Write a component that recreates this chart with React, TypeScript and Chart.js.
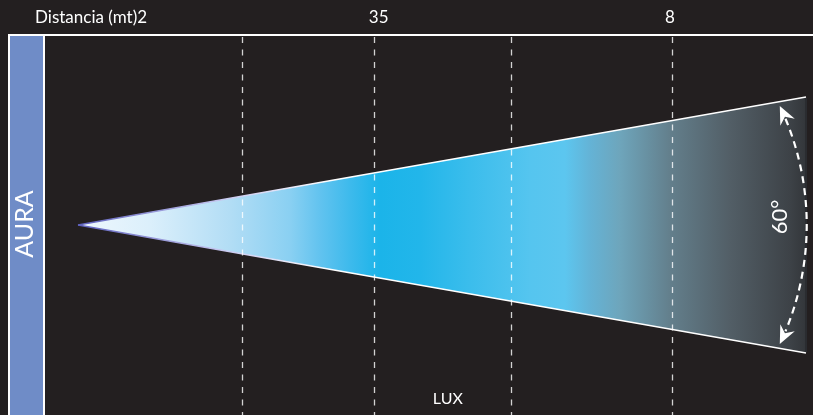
import React, { useEffect, useRef } from 'react';
import { Chart, registerables } from 'chart.js';

Chart.register(...registerables);

const W = 813;
const H = 415;
const BG = '#231f20';
const FONT = 'Lato, "Open Sans", sans-serif';

// x: distance along the beam (0 = source, 100 = beam end); y: lateral spread (half-angle units)
const X_MIN = -10.714;
const X_MAX = 100.962;
const Y_MIN = -44.531;
const Y_MAX = 52.734;

const beamDistance = [0, 100];
const beamUpper = [0, 30];
const beamLower = [0, -30];

const gridDistances = [22.5, 40.7, 59.5, 81.6];

const topLabels = ['Distancia (mt)2', '35', '8'];
const topLabelDistances = [-5.9, 41.3, 81.3];
const topLabelAlign = ['left', 'center', 'center'];
const bottomLabel = 'LUX';
const bottomLabelDistance = 50.8;
const sideLabel = 'AURA';

const spreadLabel = '60°';
const spreadArrowX = [96.4, 100.1, 96.4];
const spreadArrowY = [27.9, 0, -27.9];
const spreadLabelX = 96.4;
const spreadLabelY = 1.9;

const gradientStops = [0.3, 9.9, 20.9, 29.1, 33.2, 37.4, 41.5, 47.0, 53.8, 62.1, 66.9, 70.3, 74.5, 81.3, 89.6, 97.8, 100];
const gradientColors = [
  '#eef7fd', '#dbeffb', '#b2ddf5', '#8ad0f2', '#62c3ef', '#3dbaec', '#1bb4e9', '#22b6ea',
  '#3bbdec', '#55c5ef', '#5cc6ef', '#64b3d6', '#6ea5bb', '#637f8c', '#525e66', '#3d4247', '#33363a',
];

const overlayPlugin = {
  id: 'overlay',
  beforeDraw(chart: any) {
    const { ctx } = chart;
    ctx.save();
    ctx.fillStyle = BG;
    ctx.fillRect(0, 0, chart.width, chart.height);
    // left panel frame
    ctx.fillStyle = '#6f8cc7';
    ctx.fillRect(10, 36, 33, chart.height - 36);
    ctx.fillStyle = '#ffffff';
    ctx.fillRect(8, 34, chart.width - 8, 2);
    ctx.fillRect(8, 34, 2, chart.height - 34);
    ctx.fillRect(43, 34, 2, chart.height - 34);
    // side label
    ctx.translate(33, 224);
    ctx.rotate(-Math.PI / 2);
    ctx.font = `25px ${FONT}`;
    ctx.textAlign = 'center';
    ctx.textBaseline = 'alphabetic';
    ctx.fillText(sideLabel, 0, 0);
    ctx.restore();
  },
  afterDatasetsDraw(chart: any) {
    const { ctx } = chart;
    const xs = chart.scales.x;
    const ys = chart.scales.y;
    ctx.save();
    // dark rim at beam end
    const xe = xs.getPixelForValue(beamDistance[1]);
    ctx.strokeStyle = '#2a2c30';
    ctx.lineWidth = 2;
    ctx.beginPath();
    ctx.moveTo(xe, ys.getPixelForValue(beamUpper[1]) + 1);
    ctx.lineTo(xe, ys.getPixelForValue(beamLower[1]) - 1);
    ctx.stroke();

    // dashed distance lines
    ctx.strokeStyle = 'rgba(255,255,255,0.8)';
    ctx.lineWidth = 1.3;
    ctx.setLineDash([6, 6.5]);
    gridDistances.forEach((d) => {
      const px = Math.round(xs.getPixelForValue(d)) + 0.5;
      ctx.beginPath();
      ctx.moveTo(px, 37);
      ctx.lineTo(px, chart.height);
      ctx.stroke();
    });

    // spread arc
    const pts = spreadArrowX.map((v, i) => ({ x: xs.getPixelForValue(v), y: ys.getPixelForValue(spreadArrowY[i]) }));
    const [p1, p2, p3] = pts;
    const cy = (p1.y + p3.y) / 2;
    const cx = ((p2.x * p2.x) - (p1.x * p1.x) - (p1.y - cy) * (p1.y - cy) + (p2.y - cy) * (p2.y - cy)) / (2 * (p2.x - p1.x));
    const r = Math.hypot(p2.x - cx, p2.y - cy);
    const t1 = Math.atan2(p1.y - cy, p1.x - cx);
    const t3 = Math.atan2(p3.y - cy, p3.x - cx);
    const L = 17;
    const dt = (L - 3) / r;
    ctx.strokeStyle = '#ffffff';
    ctx.lineWidth = 2.2;
    ctx.setLineDash([7, 5]);
    ctx.beginPath();
    ctx.arc(cx, cy, r, t1 + dt, t3 - dt, false);
    ctx.stroke();
    ctx.setLineDash([]);
    const head = (p: any, dx: number, dy: number) => {
      const nx = -dy, ny = dx;
      const bx = p.x - dx * L, by = p.y - dy * L;
      const w = 8;
      ctx.beginPath();
      ctx.moveTo(p.x, p.y);
      ctx.lineTo(bx + nx * w - dx * 1, by + ny * w - dy * 1);
      ctx.lineTo(bx + dx * 5, by + dy * 5);
      ctx.lineTo(bx - nx * w - dx * 1, by - ny * w - dy * 1);
      ctx.closePath();
      ctx.fillStyle = '#ffffff';
      ctx.fill();
    };
    head(p1, Math.sin(t1), -Math.cos(t1));
    head(p3, -Math.sin(t3), Math.cos(t3));

    // spread label
    ctx.save();
    ctx.translate(xs.getPixelForValue(spreadLabelX), ys.getPixelForValue(spreadLabelY));
    ctx.rotate(-Math.PI / 2);
    ctx.font = `22px ${FONT}`;
    ctx.fillStyle = '#ffffff';
    ctx.textAlign = 'center';
    ctx.textBaseline = 'middle';
    ctx.fillText(spreadLabel, 0, 0);
    ctx.restore();

    // top labels
    ctx.fillStyle = '#ffffff';
    ctx.font = `17px ${FONT}`;
    ctx.textBaseline = 'alphabetic';
    topLabels.forEach((t, i) => {
      ctx.textAlign = topLabelAlign[i];
      ctx.fillText(t, xs.getPixelForValue(topLabelDistances[i]), 23);
    });
    ctx.font = `16px ${FONT}`;
    ctx.textAlign = 'center';
    ctx.fillText(bottomLabel, xs.getPixelForValue(bottomLabelDistance), 404);
    ctx.restore();
  },
};

function beamGradient(c: any) {
  const chart = c.chart;
  if (!chart.chartArea) return 'rgba(0,0,0,0)';
  const xs = chart.scales.x;
  const g = chart.ctx.createLinearGradient(xs.getPixelForValue(0), 0, xs.getPixelForValue(100), 0);
  gradientStops.forEach((s, i) => g.addColorStop(s / 100, gradientColors[i]));
  return g;
}

function edgeGradient(c: any) {
  const chart = c.chart;
  if (!chart.chartArea) return '#ffffff';
  const xs = chart.scales.x;
  const g = chart.ctx.createLinearGradient(xs.getPixelForValue(0), 0, xs.getPixelForValue(100), 0);
  g.addColorStop(0, '#5d60bd');
  g.addColorStop(0.2, '#c8c8f0');
  g.addColorStop(0.35, '#ffffff');
  g.addColorStop(1, '#ffffff');
  return g;
}

export default function App() {
  const ref = useRef<HTMLCanvasElement>(null);
  useEffect(() => {
    const chart = new Chart(ref.current as HTMLCanvasElement, {
      type: 'scatter',
      data: {
        datasets: [
          {
            data: beamDistance.map((x, i) => ({ x, y: beamUpper[i] })),
            showLine: true,
            borderColor: edgeGradient,
            borderWidth: 1.4,
            pointRadius: 0,
            fill: false,
          },
          {
            data: beamDistance.map((x, i) => ({ x, y: beamLower[i] })),
            showLine: true,
            borderColor: edgeGradient,
            borderWidth: 1.4,
            pointRadius: 0,
            fill: '-1',
            backgroundColor: beamGradient,
          },
        ],
      },
      options: {
        responsive: false,
        animation: false,
        devicePixelRatio: 1,
        events: [],
        layout: { padding: 0 },
        plugins: { legend: { display: false }, tooltip: { enabled: false } },
        scales: {
          x: { type: 'linear', display: false, min: X_MIN, max: X_MAX },
          y: { type: 'linear', display: false, min: Y_MIN, max: Y_MAX },
        },
      } as any,
      plugins: [overlayPlugin],
    });
    return () => chart.destroy();
  }, []);
  return (
    <div style={{ position: 'fixed', left: 0, top: 0, width: W, height: H, background: BG }}>
      <canvas ref={ref} width={W} height={H} style={{ display: 'block', width: W, height: H }} />
    </div>
  );
}
